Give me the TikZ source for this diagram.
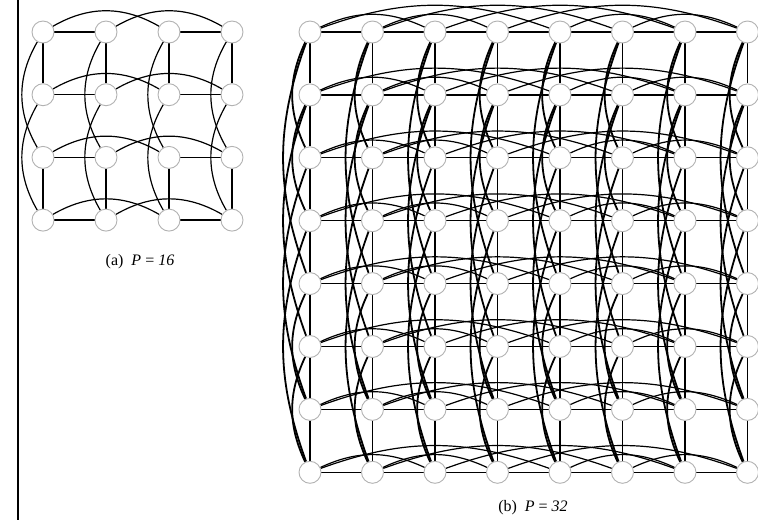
\documentclass[tikz,border=0pt]{standalone}
\usepackage{fontspec}
\setmainfont{Liberation Serif}
\usetikzlibrary{positioning}
\pgfdeclarelayer{back}
\pgfsetlayers{back,main}

\begin{document}
\begin{tikzpicture}[
  x=1pt,y=-1pt,
  pe/.style={circle,draw=black!30,fill=white,minimum size=22pt,inner sep=0pt,line width=0.9pt},
  link/.style={line width=1.3pt},
  hop/.style={line width=1.2pt},
  vhop/.style={line width=1.8pt},
  divider/.style={line width=1.2pt},
  subcap/.style={font=\fontsize{16}{18}\selectfont,inner sep=0pt}
]
\useasboundingbox (0,0) rectangle (758,520);

% separator
\coordinate (divtop) at (18,0);
\coordinate (divbot) at (18,520);
\draw[divider] (divtop) -- (divbot);

% (a) 4x4 grid
\foreach \r in {0,...,3}
  \foreach \c in {0,...,3}
    \node[pe] (a\r\c) at ({43+63*\c},{32+62.7*\r}) {};

% (b) 8x8 grid
\foreach \r in {0,...,7}
  \foreach \c in {0,...,7}
    \node[pe] (b\r\c) at ({310+62.5*\c},{32+62.9*\r}) {};

\begin{pgfonlayer}{back}
% links of (a)
\foreach \k in {0,...,3} {
  \foreach \i/\j in {0/1,2/3} {
    \draw[link] (a\k\i) -- (a\k\j);
    \draw[link] (a\i\k) -- (a\j\k);
  }
  \foreach \i/\j in {0/2,1/3} {
    \draw[hop] (a\k\i) to[bend left=30] (a\k\j);
    \draw[hop] (a\i\k) to[bend right=30] (a\j\k);
  }
}
% links of (b)
\foreach \k in {0,...,7} {
  \foreach \i/\j in {0/1,1/2,2/3,3/4,4/5,5/6,6/7} {
    \draw[link] (b\k\i) -- (b\k\j);
    \draw[link] (b\i\k) -- (b\j\k);
  }
  \foreach \i/\j in {0/2,1/3,4/6,5/7} {
    \draw[hop] (b\k\i) to[bend left=25] (b\k\j);
    \draw[vhop] (b\i\k) to[bend right=25] (b\j\k);
  }
  \foreach \i/\j in {0/4,1/5,2/6,3/7} {
    \draw[hop] (b\k\i) to[bend left=20] (b\k\j);
    \draw[vhop] (b\i\k) to[bend right=20] (b\j\k);
  }
}
\end{pgfonlayer}

% captions
\node[subcap] (capa) at (140,262) {(a)\enspace\textit{P} = \textit{16}};
\node[subcap] (capb) at (533,508) {(b)\enspace\textit{P} = \textit{32}};
\end{tikzpicture}
\end{document}
